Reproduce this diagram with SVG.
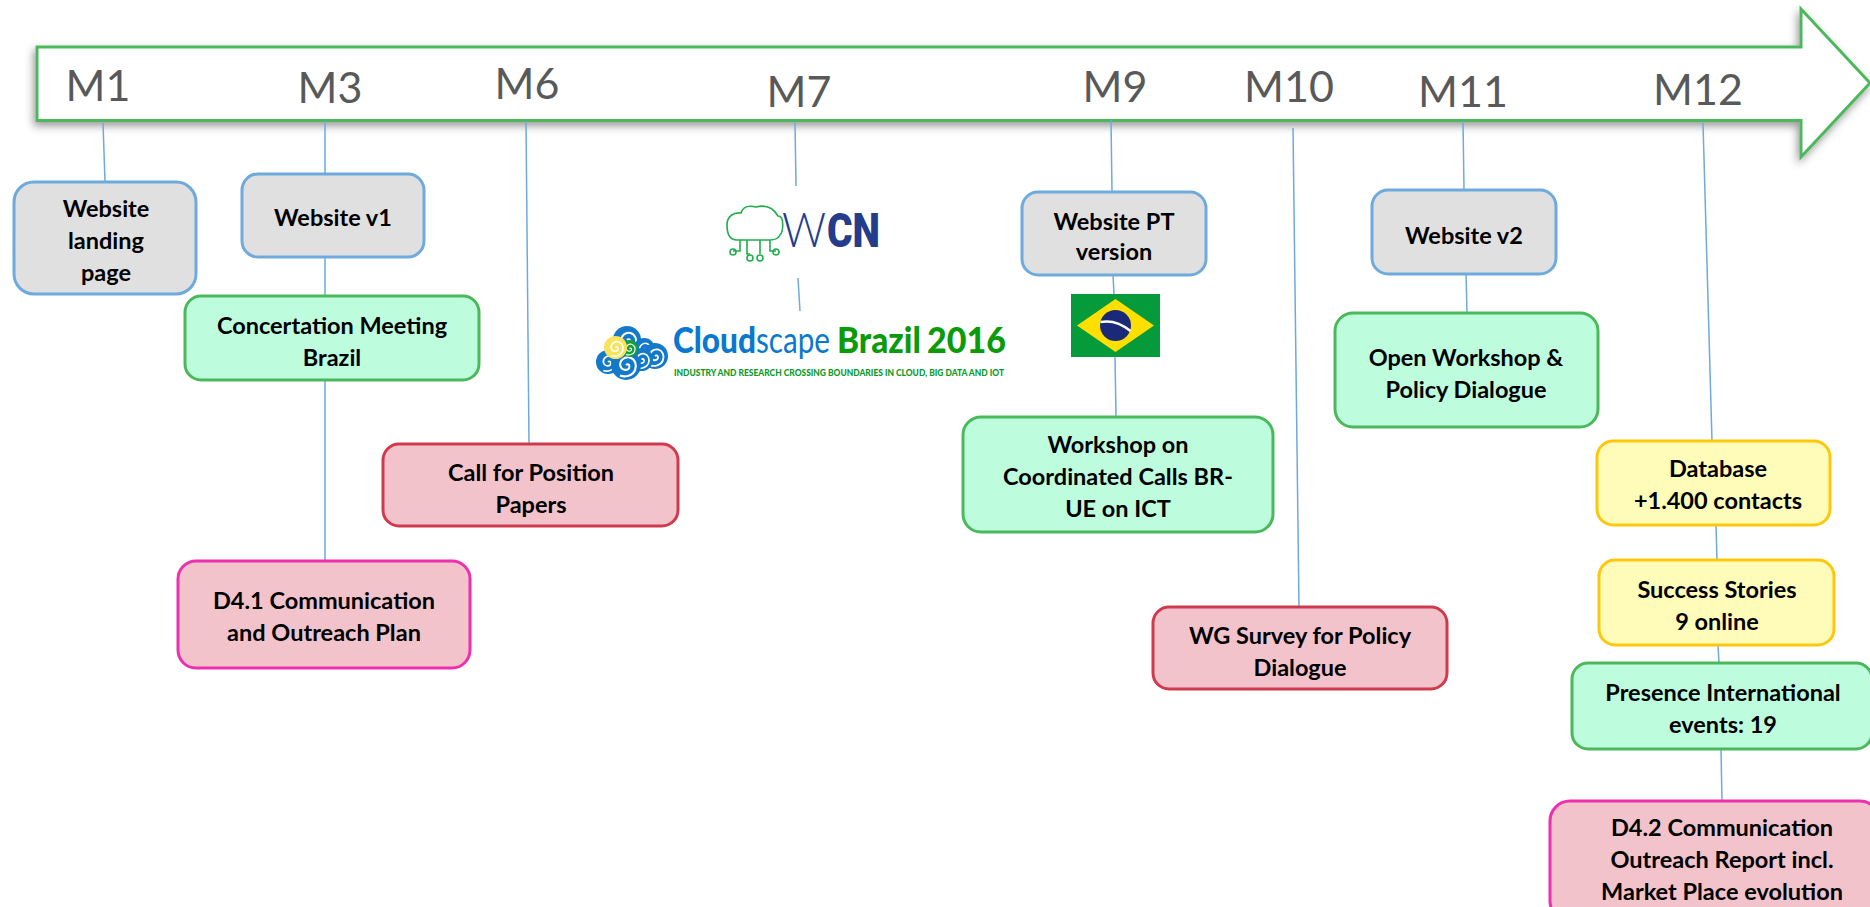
<svg xmlns="http://www.w3.org/2000/svg" xmlns:xlink="http://www.w3.org/1999/xlink" width="1870" height="907" viewBox="0 0 1870 907">
<style>
.box{stroke-width:3}
.grey{fill:#e0e0e0;stroke:#6eaadc}
.green{fill:#bdfcdd;stroke:#4cb85c}
.red{fill:#f2c3ca;stroke:#cf3a4c}
.pink{fill:#f2c3ca;stroke:#ee30b0}
.yellow{fill:#fefcb8;stroke:#fdc80c}
.t{font:700 23.5px Lato,"Liberation Sans",sans-serif;fill:#000;text-anchor:middle}
.m{font:400 43px Lato,"Liberation Sans",sans-serif;fill:#595959;text-anchor:middle}
.c{stroke:#6eaadc;stroke-width:1.5;fill:none}
.cg{fill:none;stroke:#1fae4b;stroke-width:1.6}
</style>
<defs>
<filter id="sh" x="-5%" y="-30%" width="110%" height="160%"><feDropShadow dx="-2" dy="4" stdDeviation="4" flood-color="#000" flood-opacity=".4"/></filter>
<symbol id="sp" viewBox="-10 -10 20 20" overflow="visible"><circle r="10" fill="currentColor"/><path d="M0 0C1.5-1.5 3 .5 2 2.2C.5 4-3 3.5-3.8.5C-4.5-3-1-5.8 2.5-5C6-4 7.5 0 6 3.5C4.5 7-.5 8.5-4 7" fill="none" stroke="#fff" stroke-width="1.4"/></symbol>
</defs>
<g id="timeline">
<path d="M37 47H1801V9L1870 83L1801 157V120.500H37Z" fill="#fff" stroke="#4cb85c" stroke-width="3" filter="url(#sh)"/>
<text class="m" x="98" y="101">M1</text>
<text class="m" x="330" y="103">M3</text>
<text class="m" x="527" y="99">M6</text>
<text class="m" x="799" y="107">M7</text>
<text class="m" x="1115" y="102">M9</text>
<text class="m" x="1289" y="102">M10</text>
<text class="m" x="1463" y="107">M11</text>
<text class="m" x="1698" y="105">M12</text>
</g>
<g id="connectors">
<path class="c" d="M103 123L105 181"/>
<path class="c" d="M325 121V174M325 257V296M325 380V561"/>
<path class="c" d="M526 121L529 444"/>
<path class="c" d="M795 123L796 186M798 278L800 311"/>
<path class="c" d="M1111 120L1112 192M1113 275L1114 294M1115 357L1116 417"/>
<path class="c" d="M1293 128L1299 607"/>
<path class="c" d="M1463 121L1464 190M1466 274L1467 313"/>
<path class="c" d="M1703 123L1712 441M1716 525L1717 560M1718 645L1719 663M1721 749L1722 801"/>
</g>
<g id="n1"><rect class="box grey" x="14" y="182" width="182" height="112" rx="20"/><text class="t" x="106" y="217">Website</text><text class="t" x="106" y="249">landing</text><text class="t" x="106" y="281">page</text></g>
<g id="n2"><rect class="box grey" x="242" y="174" width="182" height="83" rx="16"/><text class="t" x="333" y="226">Website v1</text></g>
<g id="n3"><rect class="box green" x="185" y="296" width="294" height="84" rx="16"/><text class="t" x="332" y="334">Concertation Meeting</text><text class="t" x="332" y="366">Brazil</text></g>
<g id="n4"><rect class="box red" x="383" y="444" width="295" height="82" rx="16"/><text class="t" x="531" y="481">Call for Position</text><text class="t" x="531" y="513">Papers</text></g>
<g id="n5"><rect class="box pink" x="178" y="561" width="292" height="107" rx="18"/><text class="t" x="324" y="609">D4.1 Communication</text><text class="t" x="324" y="641">and Outreach Plan</text></g>
<g id="wcn">
<path class="cg" d="M737 240C729 240 727 232 727 225C727 216 734 212 741 213C744 204 752 206 756 207C760 206 771 204 778 216C785 216 783 232 780 235C778 239 774 240 770 240ZM740 240V251H733M747 240V254H750M760 240V254M770 240V251H776"/>
<circle class="cg" cx="733" cy="252" r="3"/><circle class="cg" cx="750" cy="258" r="3"/><circle class="cg" cx="760" cy="258" r="3"/><circle class="cg" cx="776" cy="252" r="3"/>
<text x="782" y="247" font-family="Lato,sans-serif" font-weight="300" font-size="48" fill="#243c8c" textLength="44" lengthAdjust="spacingAndGlyphs">W</text>
<text x="827" y="247" font-family="Roboto,sans-serif" font-weight="900" font-size="48" fill="#243c8c" textLength="53" lengthAdjust="spacingAndGlyphs">CN</text>
</g>
<g id="cloudscape">
<g color="#1479c9">
<use xlink:href="#sp" x="596" y="350" width="24" height="24"/>
<use xlink:href="#sp" x="613" y="326" width="28" height="28"/>
<use xlink:href="#sp" x="633" y="338" width="22" height="22"/>
<use xlink:href="#sp" x="642" y="343" width="26" height="26"/>
<use xlink:href="#sp" x="630" y="348" width="23" height="23"/>
<use xlink:href="#sp" x="611" y="350" width="30" height="30"/>
</g>
<use xlink:href="#sp" x="621" y="340" width="17" height="17" color="#13a03a"/>
<use xlink:href="#sp" x="604" y="336" width="23" height="23" color="#f8e45c"/>
<text x="673" y="353" font-family="Lato,sans-serif" font-weight="900" font-size="36" fill="#0b78d0" textLength="83" lengthAdjust="spacingAndGlyphs">Cloud</text>
<text x="756" y="353" font-family="Lato,sans-serif" font-weight="400" font-size="36" fill="#0b78d0" textLength="74" lengthAdjust="spacingAndGlyphs">scape</text>
<text x="837" y="353" font-family="Lato,sans-serif" font-weight="900" font-size="36" fill="#0a9a0a" textLength="84" lengthAdjust="spacingAndGlyphs">Brazil</text>
<text x="927" y="353" font-family="Lato,sans-serif" font-weight="900" font-size="36" fill="#0a9a0a" textLength="79" lengthAdjust="spacingAndGlyphs">2016</text>
<text x="674" y="376" font-family="Lato,sans-serif" font-weight="900" font-size="9.500" fill="#0a9a2a" textLength="330" lengthAdjust="spacingAndGlyphs">INDUSTRY AND RESEARCH CROSSING BOUNDARIES IN CLOUD, BIG DATA AND IOT</text>
</g>
<g id="n6"><rect class="box grey" x="1022" y="192" width="184" height="83" rx="16"/><text class="t" x="1114" y="230">Website PT</text><text class="t" x="1114" y="260">version</text></g>
<g id="flag"><rect x="1071" y="294" width="89" height="63" fill="#069b3a"/><path d="M1115.500 299L1154 325.500L1115.500 352L1077 325.500Z" fill="#fedf00"/><circle cx="1115.500" cy="325.500" r="15.500" fill="#1b2a78"/><path d="M1100.500 322Q1116 319 1130.500 331" fill="none" stroke="#fff" stroke-width="2.500"/></g>
<g id="n7"><rect class="box green" x="963" y="417" width="310" height="115" rx="18"/><text class="t" x="1118" y="453">Workshop on</text><text class="t" x="1118" y="485">Coordinated Calls BR-</text><text class="t" x="1118" y="517">UE on ICT</text></g>
<g id="n8"><rect class="box red" x="1153" y="607" width="294" height="82" rx="16"/><text class="t" x="1300" y="644">WG Survey for Policy</text><text class="t" x="1300" y="676">Dialogue</text></g>
<g id="n9"><rect class="box grey" x="1372" y="190" width="184" height="84" rx="16"/><text class="t" x="1464" y="244">Website v2</text></g>
<g id="n10"><rect class="box green" x="1335" y="313" width="263" height="114" rx="18"/><text class="t" x="1466" y="366">Open Workshop &amp;</text><text class="t" x="1466" y="398">Policy Dialogue</text></g>
<g id="n11"><rect class="box yellow" x="1597" y="441" width="233" height="84" rx="16"/><text class="t" x="1718" y="477">Database</text><text class="t" x="1718" y="509">+1.400 contacts</text></g>
<g id="n12"><rect class="box yellow" x="1599" y="560" width="235" height="85" rx="16"/><text class="t" x="1717" y="598">Success Stories</text><text class="t" x="1717" y="630">9 online</text></g>
<g id="n13"><rect class="box green" x="1572" y="663" width="300" height="86" rx="16"/><text class="t" x="1723" y="701">Presence International</text><text class="t" x="1723" y="733">events:  19</text></g>
<g id="n14"><rect class="box pink" x="1550" y="801" width="330" height="120" rx="20"/><text class="t" x="1722" y="836">D4.2 Communication</text><text class="t" x="1722" y="868">Outreach Report incl.</text><text class="t" x="1722" y="900">Market Place evolution</text></g>
</svg>
